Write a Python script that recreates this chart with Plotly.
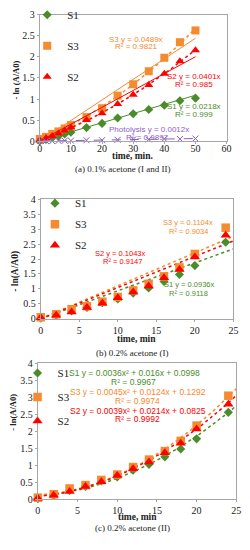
import numpy as np
import plotly.graph_objects as go

# ---------------- data ----------------
# Panel (a): 0.1% acetone
xa = [0, 2, 4, 6, 8, 10, 15, 20, 25, 30, 35, 40, 45, 50]
a_s1 = [0.0, 0.04, 0.08, 0.12, 0.17, 0.21, 0.32, 0.42, 0.55, 0.65, 0.75, 0.85, 0.96, 1.02]
a_s3 = [0.05, 0.10, 0.17, 0.23, 0.30, 0.38, 0.57, 0.78, 1.08, 1.35, 1.66, 1.98, 2.35, 2.63]
a_s2 = [0.02, 0.07, 0.12, 0.18, 0.25, 0.32, 0.50, 0.66, 0.88, 1.10, 1.33, 1.60, 1.90, 2.16]
a_ph = [0.0, 0.0, 0.0, 0.005, 0.01, 0.01, 0.02, 0.02, 0.03, 0.04, 0.04, 0.05, 0.05, 0.06]
a_slopes = {"S1": 0.0218, "S3": 0.0489, "S2": 0.0401, "Photolysis": 0.0012}
a_r2 = {"S1": "0.999", "S3": "0.9821", "S2": "0.985", "Photolysis": "0.9897"}

# Panels (b) and (c): 0.2% acetone
xb = [0, 2, 4, 6, 8, 10, 12, 14, 16, 18, 20, 24]
b_s1 = [0.02, 0.12, 0.26, 0.38, 0.54, 0.66, 0.86, 1.03, 1.25, 1.48, 1.78, 2.56]
b_s3 = [0.05, 0.15, 0.32, 0.42, 0.57, 0.73, 0.95, 1.17, 1.42, 1.72, 2.17, 3.05]
b_s2 = [0.03, 0.12, 0.23, 0.38, 0.52, 0.70, 0.90, 1.10, 1.37, 1.65, 2.07, 2.80]
b_slopes = {"S1": 0.0936, "S3": 0.1104, "S2": 0.1043}
b_r2 = {"S1": "0.9118", "S3": "0.9034", "S2": "0.9147"}
c_coef = {"S1": (0.0036, 0.016, 0.0998), "S3": (0.0045, 0.0124, 0.1292), "S2": (0.0039, 0.0214, 0.0825)}
c_r2 = {"S1": "0.9967", "S3": "0.9974", "S2": "0.9992"}

GREEN = "#4a8c2a"
ORANGE = "#f58a2e"
RED = "#ff0000"
PURPLE = "#8a5cc8"
GRAY = "#a6a6a6"
SERIF = "Liberation Serif"
SANS = "Liberation Sans"

fig = go.Figure()

sym = {"S1": "diamond", "S3": "square", "S2": "triangle-up"}
col = {"S1": GREEN, "S3": ORANGE, "S2": RED}
msize_a = {"S1": 7, "S3": 8, "S2": 8}
msize_b = {"S1": 7, "S3": 8.5, "S2": 9}

# ---------- panel a ----------
ys_a = {"S1": a_s1, "S3": a_s3, "S2": a_s2}
xl = np.linspace(0, 50, 60)
for name in ["S1", "S3", "S2"]:
    fig.add_trace(go.Scatter(x=xa, y=ys_a[name], mode="markers", name=name,
                             marker=dict(symbol=sym[name], size=msize_a[name], color=col[name]),
                             xaxis="x", yaxis="y", legend="legend", legendgroup="a" + name,
                             cliponaxis=False))
    fig.add_trace(go.Scatter(x=xl, y=a_slopes[name] * xl, mode="lines", showlegend=False,
                             line=dict(color=col[name], width=1), xaxis="x", yaxis="y"))
    if name != "S1":
        p = np.polyfit(xa, ys_a[name], 2)
        fig.add_trace(go.Scatter(x=xl, y=np.polyval(p, xl), mode="lines", showlegend=False,
                                 line=dict(color=col[name], width=1.5, dash="dot"),
                                 xaxis="x", yaxis="y"))
fig.add_trace(go.Scatter(x=xa, y=a_ph, mode="markers", showlegend=False,
                         marker=dict(symbol="x-thin", size=6, line=dict(color=PURPLE, width=1)),
                         xaxis="x", yaxis="y", cliponaxis=False))
fig.add_trace(go.Scatter(x=xl, y=a_slopes["Photolysis"] * xl, mode="lines", showlegend=False,
                         line=dict(color=PURPLE, width=1, dash="dash"), xaxis="x", yaxis="y"))

# ---------- panel b ----------
ys_b = {"S1": b_s1, "S3": b_s3, "S2": b_s2}
xl2 = np.linspace(0, 25, 60)
for name in ["S1", "S3", "S2"]:
    fig.add_trace(go.Scatter(x=xl2, y=b_slopes[name] * xl2, mode="lines", showlegend=False,
                             line=dict(color=col[name], width=1.5, dash="dot"),
                             xaxis="x2", yaxis="y2"))
for name in ["S1", "S3", "S2"]:
    fig.add_trace(go.Scatter(x=xb, y=ys_b[name], mode="markers", name=name,
                             marker=dict(symbol=sym[name], size=msize_b[name], color=col[name]),
                             xaxis="x2", yaxis="y2", legend="legend2", legendgroup="b" + name,
                             cliponaxis=False))

# ---------- panel c ----------
for name in ["S1", "S3", "S2"]:
    a2, a1, a0 = c_coef[name]
    fig.add_trace(go.Scatter(x=xl2, y=a2 * xl2 ** 2 + a1 * xl2 + a0, mode="lines", showlegend=False,
                             line=dict(color=col[name], width=1.5, dash="dot"),
                             xaxis="x3", yaxis="y3"))
for name in ["S1", "S3", "S2"]:
    fig.add_trace(go.Scatter(x=xb, y=ys_b[name], mode="markers", name=name,
                             marker=dict(symbol=sym[name], size=msize_b[name], color=col[name]),
                             xaxis="x3", yaxis="y3", legend="legend3", legendgroup="c" + name,
                             cliponaxis=False))

W, H = 250, 550
def px(x):
    return x / W
def py(y):
    return 1 - y / H

axis_common = dict(showline=True, linecolor=GRAY, linewidth=1, mirror=True, showgrid=False,
                   zeroline=False, ticks="outside", ticklen=2, tickcolor=GRAY,
                   tickfont=dict(family=SERIF, size=10, color="#222"))

fig.update_layout(
    width=W, height=H, margin=dict(l=0, r=0, t=0, b=0),
    paper_bgcolor="white", plot_bgcolor="white",
    xaxis=dict(domain=[px(38), px(231)], range=[0, 60], dtick=10, anchor="y",
               ticklabelstandoff=-4, **axis_common),
    yaxis=dict(domain=[py(135), py(5)], range=[0, 3], dtick=0.5, anchor="x", **axis_common),
    xaxis2=dict(domain=[px(39), px(238)], range=[0, 25], dtick=5, anchor="y2", **axis_common),
    yaxis2=dict(domain=[py(318), py(195)], range=[0, 4], dtick=0.5, anchor="x2", **axis_common),
    xaxis3=dict(domain=[px(36), px(241)], range=[0, 25], dtick=5, anchor="y3", **axis_common),
    yaxis3=dict(domain=[py(504), py(364)], range=[0, 4], dtick=0.5, anchor="x3", **axis_common),
    showlegend=True,
)

leg_common = dict(bgcolor="rgba(0,0,0,0)", font=dict(family=SERIF, size=11, color="#222"),
                  xanchor="left", yanchor="top", traceorder="grouped")
fig.update_layout(
    legend=dict(x=px(25), y=py(-10), tracegroupgap=12, **leg_common),
    legend2=dict(x=px(33), y=py(184), tracegroupgap=2, **leg_common),
    legend3=dict(x=px(15), y=py(359), tracegroupgap=5, **leg_common),
)

ann = []
def txt(x, y, s, color, size=8, family=SANS, bold=False, angle=0):
    if bold:
        s = "<b>" + s + "</b>"
    ann.append(dict(x=px(x), y=py(y), xref="paper", yref="paper", text=s, showarrow=False,
                    font=dict(family=family, size=size, color=color), textangle=angle,
                    xanchor="center", yanchor="middle"))

# panel a labels
txt(137, 30, "S3 y = %.4fx" % a_slopes["S3"], ORANGE)
txt(138, 38, "R² = " + a_r2["S3"], ORANGE)
txt(197, 68, "S2 y = %.4fx" % a_slopes["S2"], RED)
txt(197, 77, "R² = " + a_r2["S2"], RED)
txt(197, 99, "S1 y = %.4fx" % a_slopes["S1"], GREEN)
txt(197, 108, "R² = " + a_r2["S1"], GREEN)
txt(151, 123, "Photolysis y = %.4fx" % a_slopes["Photolysis"], PURPLE)
txt(149, 131, "R² = " + a_r2["Photolysis"], PURPLE)
txt(134, 150, "time, min.", "#222", size=9.5, family=SERIF, bold=True)
txt(123, 164, "(a) 0.1% acetone (I and II)", "#222", size=9, family=SERIF)
txt(13, 72, "- ln (A/A0)", "#222", size=8.5, family=SERIF, bold=True, angle=-90)

# panel b labels
txt(191, 219, "S3 y = %.4fx" % b_slopes["S3"], ORANGE, size=7.5)
txt(192, 228, "R² = " + b_r2["S3"], ORANGE, size=7.5)
txt(121, 251, "S2 y = %.4fx" % b_slopes["S2"], RED, size=7.5)
txt(123, 259, "R² = " + b_r2["S2"], RED, size=7.5)
txt(192, 283, "S1 y = %.4fx" % b_slopes["S1"], GREEN, size=7.5)
txt(192, 292, "R² = " + b_r2["S1"], GREEN, size=7.5)
txt(138, 339, "time, min", "#222", size=9.5, family=SERIF, bold=True)
txt(133, 353, "(b) 0.2% acetone (I)", "#222", size=9, family=SERIF)
txt(13, 269, "- ln(A/A0)", "#222", size=9.5, family=SERIF, bold=True, angle=-90)

# panel c labels
def quad(c):
    return "y = %gx² + %gx + %g" % c
txt(136, 374, "S1 " + quad(c_coef["S1"]), GREEN, size=8.5)
txt(135, 383, "R² = " + c_r2["S1"], GREEN, size=8.5)
txt(139, 393, "S3 " + quad(c_coef["S3"]), ORANGE, size=8.5)
txt(139, 403, "R² = " + c_r2["S3"], ORANGE, size=8.5)
txt(139, 413, "S2 " + quad(c_coef["S2"]), RED, size=8.5)
txt(139, 421, "R² = " + c_r2["S2"], RED, size=8.5)
txt(139, 522, "time, min", "#222", size=9.5, family=SERIF, bold=True)
txt(134, 534, "(c) 0.2% acetone (II)", "#222", size=9, family=SERIF)
txt(10, 414, "- ln(A/A0)", "#222", size=8.5, family=SERIF, bold=True, angle=-90)

fig.update_layout(annotations=ann)
fig.write_html("out.html", config={"displayModeBar": False},
               post_script="document.body.style.margin='0';document.body.style.overflow='hidden';")
